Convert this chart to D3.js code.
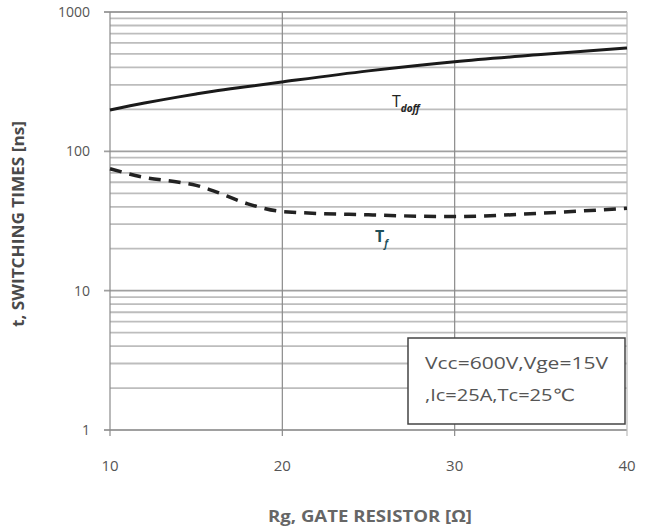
<!DOCTYPE html>
<html lang="en">
<head>
<meta charset="utf-8">
<title>Switching times vs gate resistor</title>
<script src="https://cdn.jsdelivr.net/npm/d3@7"></script>
<style>
  body { margin: 0; background: #fff; }
  text { font-family: "Open Sans", "DejaVu Sans", sans-serif; fill: #555; }
  .minor { stroke: #bdbdbd; stroke-width: 1.8px; }
  .major { stroke: #9a9a9a; stroke-width: 1.2px; }
</style>
</head>
<body>
<div id="chart"></div>
<script>
var width = 655, height = 528;
var margin = {top: 12, right: 28, bottom: 98, left: 110};

// data
var rg = [10, 12, 14, 15, 16, 18, 20, 25, 30, 35, 40];
var tdoff = [198, 222, 246, 258, 270, 292, 315, 378, 440, 495, 552];
var tf = [75, 65, 60, 57, 52, 42, 37, 35, 34, 36, 39];
var xTicks = [10, 20, 30, 40];
var yTicks = [1, 10, 100, 1000];

var svg = d3.select("#chart").append("svg")
    .attr("width", width)
    .attr("height", height);

var x = d3.scaleLinear().domain([10, 40]).range([margin.left, width - margin.right]);
var y = d3.scaleLog().domain([1, 1000]).range([height - margin.bottom, margin.top]);

// horizontal grid (2..9 per decade)
var minors = [];
for (var e = 0; e < 3; e++)
  for (var m = 2; m < 10; m++) minors.push(m * Math.pow(10, e));

svg.append("g").selectAll("line")
    .data(minors)
  .enter().append("line")
    .attr("class", "minor")
    .attr("x1", x(10)).attr("x2", x(40))
    .attr("y1", function(d) { return y(d); })
    .attr("y2", function(d) { return y(d); });

svg.append("g").selectAll("line")
    .data(yTicks)
  .enter().append("line")
    .attr("class", "minor")
    .attr("x1", x(10) - 6).attr("x2", x(40))
    .attr("y1", function(d) { return y(d); })
    .attr("y2", function(d) { return y(d); })
    .style("stroke", "#a0a0a0");

// vertical grid
svg.append("g").selectAll("line")
    .data(xTicks)
  .enter().append("line")
    .attr("class", "major")
    .attr("x1", function(d) { return x(d); })
    .attr("x2", function(d) { return x(d); })
    .attr("y1", y(1000))
    .attr("y2", y(1) + 6)
    .style("stroke", function(d) { return d == 40 ? "#bbb" : "#8a8a8a"; });

// y tick labels
svg.append("g").selectAll("text")
    .data(yTicks)
  .enter().append("text")
    .attr("x", x(10) - 20)
    .attr("y", function(d) { return y(d) + 5; })
    .attr("text-anchor", "end")
    .style("font-size", "14px")
    .text(function(d) { return d; });

// x tick labels
svg.append("g").selectAll("text")
    .data(xTicks)
  .enter().append("text")
    .attr("x", function(d) { return x(d); })
    .attr("y", y(1) + 41)
    .attr("text-anchor", "middle")
    .style("font-size", "15px")
    .text(function(d) { return d; });

// axis titles
svg.append("text")
    .attr("x", 268).attr("y", 522)
    .attr("textLength", 204)
    .attr("lengthAdjust", "spacingAndGlyphs")
    .style("font-size", "16px")
    .style("font-weight", "bold")
    .style("fill", "#666")
    .text("Rg, GATE RESISTOR [Ω]");

svg.append("text")
    .attr("transform", "translate(24,327) rotate(-90)")
    .attr("textLength", 206)
    .attr("lengthAdjust", "spacingAndGlyphs")
    .style("font-size", "16px")
    .style("font-weight", "bold")
    .style("fill", "#4a4a4a")
    .text("t, SWITCHING TIMES [ns]");

// curves
var line = d3.line()
    .x(function(d) { return x(d[0]); })
    .y(function(d) { return y(d[1]); })
    .curve(d3.curveMonotoneX);

svg.append("path")
    .datum(d3.zip(rg, tdoff))
    .attr("d", line)
    .attr("fill", "none")
    .attr("stroke", "#1a1a1a")
    .attr("stroke-width", 3);

svg.append("path")
    .datum(d3.zip(rg, tf))
    .attr("d", line)
    .attr("fill", "none")
    .attr("stroke", "#222")
    .attr("stroke-width", 3.5)
    .attr("stroke-dasharray", "12,8");

// curve labels
var lab1 = svg.append("text").attr("x", 392).attr("y", 107).style("fill", "#222").style("font-size", "16px");
lab1.append("tspan").text("T");
lab1.append("tspan").attr("dy", 5).style("font-size", "10px").style("font-style", "italic").style("font-weight", "bold").text("doff");

var lab2 = svg.append("text").attr("x", 375).attr("y", 242).style("fill", "#1f4f5a").style("font-size", "16px").style("font-weight", "bold");
lab2.append("tspan").text("T");
lab2.append("tspan").attr("dy", 5).style("font-size", "10px").style("font-style", "italic").text("f");

// condition box
svg.append("rect")
    .attr("x", 408).attr("y", 338)
    .attr("width", 217).attr("height", 86)
    .attr("fill", "#fff")
    .attr("stroke", "#444")
    .attr("stroke-width", 1.5);

svg.append("text")
    .attr("x", 425).attr("y", 369)
    .attr("textLength", 183)
    .attr("lengthAdjust", "spacingAndGlyphs")
    .style("font-size", "17px")
    .style("fill", "#555")
    .text("Vcc=600V,Vge=15V");

svg.append("text")
    .attr("x", 425).attr("y", 401)
    .attr("textLength", 150)
    .attr("lengthAdjust", "spacingAndGlyphs")
    .style("font-size", "17px")
    .style("fill", "#555")
    .text(",Ic=25A,Tc=25℃");
</script>
</body>
</html>
